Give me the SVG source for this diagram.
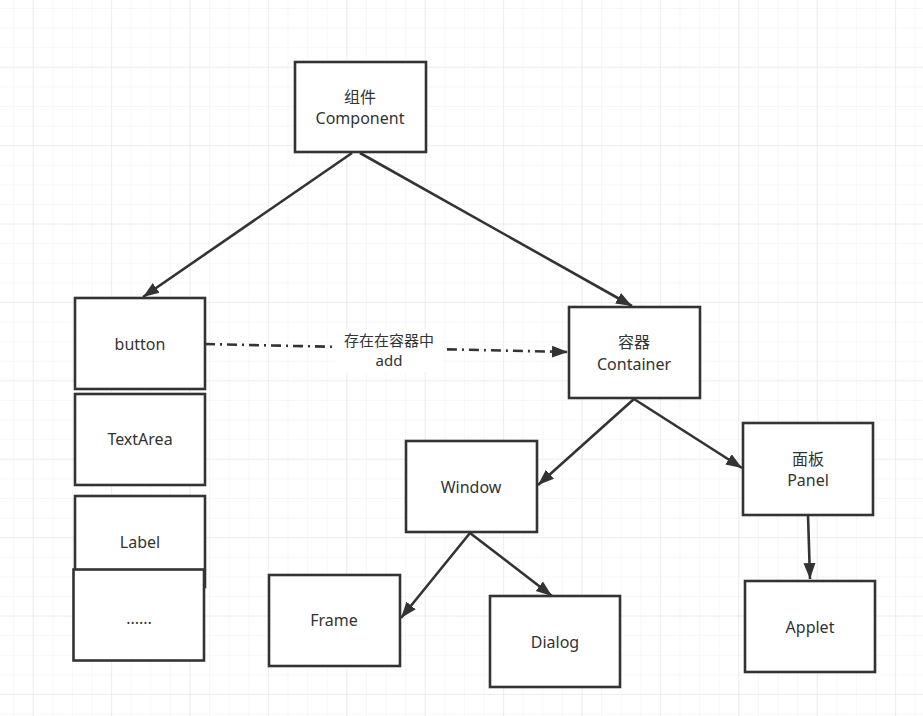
<svg xmlns="http://www.w3.org/2000/svg" width="923" height="716" viewBox="0 0 923 716">
<style>
.box{fill:#fff;stroke:#333;stroke-width:2.6}
.t{font-family:"Noto Sans","Noto Sans CJK SC",sans-serif;font-size:16px;fill:#333;text-anchor:middle}
.s{font-size:15px}
.e{fill:none;stroke:#333;stroke-width:2.6}
</style>
<defs>
<pattern id="minor" width="19.6" height="19.6" patternUnits="userSpaceOnUse" x="13.1" y="8">
<path d="M0 0H19.6M0 0V19.6" fill="none" stroke="#f0f0f0" stroke-width="1"/>
</pattern>
<pattern id="major" width="78.4" height="78.4" patternUnits="userSpaceOnUse" x="32.7" y="66.7">
<path d="M0 0H78.4M0 0V78.4" fill="none" stroke="#e4e4e4" stroke-width="1"/>
</pattern>
<marker id="arr" markerUnits="userSpaceOnUse" markerWidth="20" markerHeight="16" refX="16" refY="6" orient="auto" viewBox="0 0 20 12">
<path d="M0 0L16 6L0 12Z" fill="#333"/>
</marker>
</defs>
<rect width="923" height="716" fill="#fff"/>
<rect width="923" height="716" fill="url(#minor)"/>
<rect width="923" height="716" fill="url(#major)"/>

<g id="connectors">
<line class="e" x1="352" y1="153" x2="143" y2="297" marker-end="url(#arr)"/>
<line class="e" x1="360" y1="153" x2="632" y2="306" marker-end="url(#arr)"/>
<line class="e" x1="205" y1="344" x2="568" y2="352" stroke-dasharray="10 5 2 5" marker-end="url(#arr)"/>
<line class="e" x1="634" y1="399" x2="538" y2="485" marker-end="url(#arr)"/>
<line class="e" x1="634" y1="399" x2="742" y2="468" marker-end="url(#arr)"/>
<line class="e" x1="470" y1="533" x2="401" y2="618" marker-end="url(#arr)"/>
<line class="e" x1="470" y1="533" x2="552" y2="596" marker-end="url(#arr)"/>
<line class="e" x1="808" y1="515" x2="810" y2="579" marker-end="url(#arr)"/>
<g id="edge-label">
<rect x="336" y="330" width="106" height="42" fill="#fff"/>
<text class="t s" x="389" y="346">存在在容器中</text>
<text class="t s" x="389" y="366">add</text>
</g>
</g>

<g id="component"><rect class="box" x="295" y="62" width="131" height="90"/>
<text class="t" x="360" y="103">组件</text><text class="t" x="360" y="124">Component</text></g>
<g id="button"><rect class="box" x="75" y="298" width="130" height="91"/>
<text class="t" x="140" y="350">button</text></g>
<g id="textarea"><rect class="box" x="75" y="394" width="130" height="91"/>
<text class="t" x="140" y="445">TextArea</text></g>
<g id="label"><rect class="box" x="75" y="496" width="130" height="91"/>
<text class="t" x="140" y="548">Label</text></g>
<g id="more"><rect class="box" x="73.5" y="569.5" width="130.5" height="91"/>
<text class="t" x="139" y="624">......</text></g>
<g id="container"><rect class="box" x="569" y="307" width="131" height="91"/>
<text class="t" x="634" y="348">容器</text><text class="t" x="634" y="370">Container</text></g>
<g id="window"><rect class="box" x="406" y="441" width="131" height="91"/>
<text class="t" x="471" y="493">Window</text></g>
<g id="panel"><rect class="box" x="743" y="423" width="130" height="92"/>
<text class="t" x="808" y="465">面板</text><text class="t" x="808" y="486">Panel</text></g>
<g id="frame"><rect class="box" x="269" y="575" width="131" height="91"/>
<text class="t" x="334" y="626">Frame</text></g>
<g id="dialog"><rect class="box" x="490" y="596" width="130" height="91"/>
<text class="t" x="555" y="648">Dialog</text></g>
<g id="applet"><rect class="box" x="745" y="581" width="130" height="91"/>
<text class="t" x="810" y="633">Applet</text></g>
</svg>
